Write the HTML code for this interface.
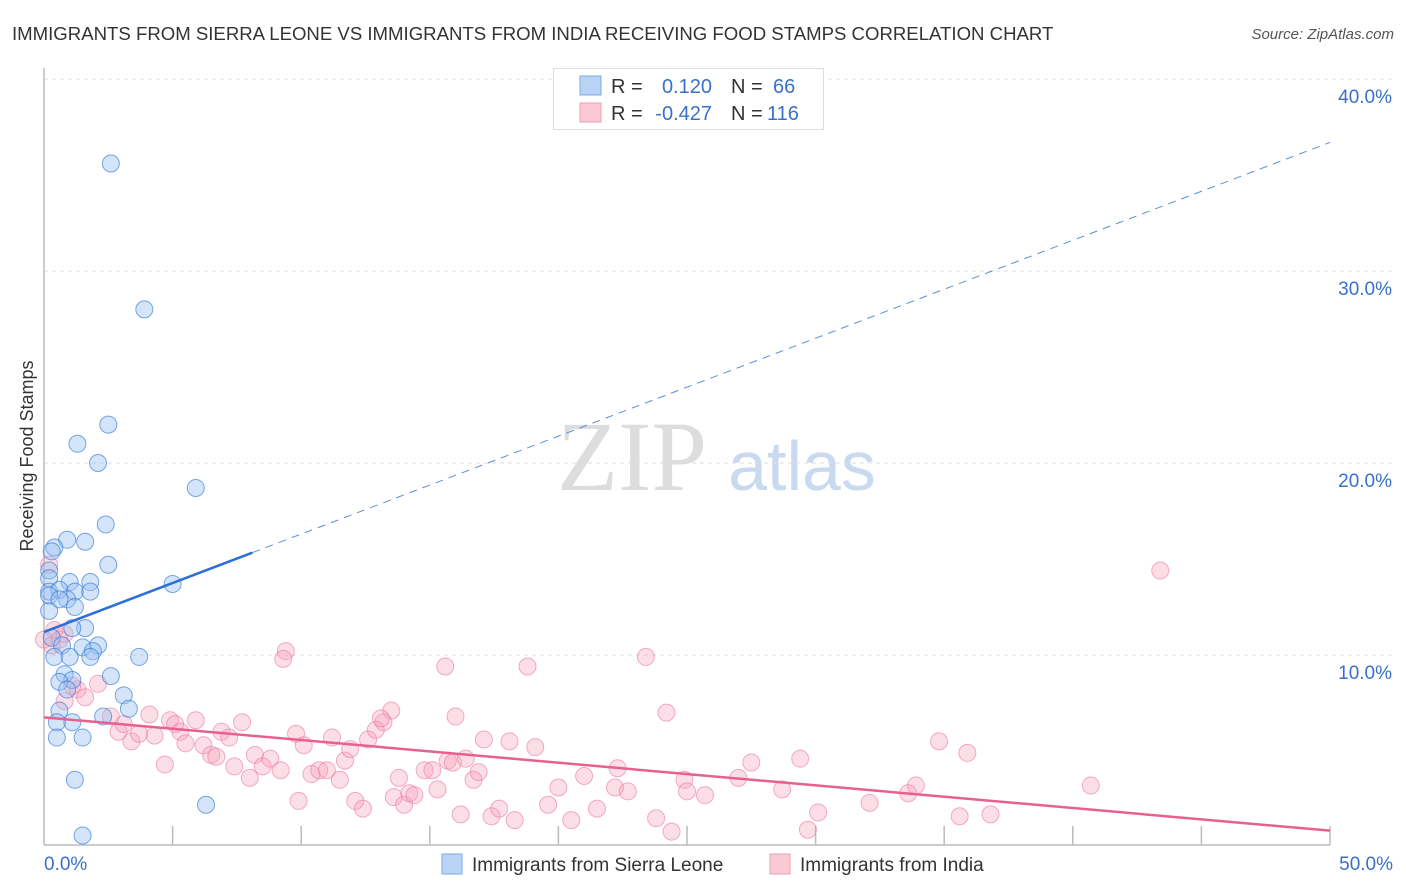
<!DOCTYPE html>
<html><head><meta charset="utf-8"><style>
body{margin:0;background:#fff;font-family:"Liberation Sans",sans-serif;}
svg{display:block}
</style></head><body>
<svg id="chart" width="1406" height="892">
<text x="12" y="40" font-size="18.6" fill="#333">IMMIGRANTS FROM SIERRA LEONE VS IMMIGRANTS FROM INDIA RECEIVING FOOD STAMPS CORRELATION CHART</text>
<text x="1394" y="39" font-size="15" fill="#555" font-style="italic" text-anchor="end">Source: ZipAtlas.com</text>
<text x="33" y="456" font-size="18" fill="#333" text-anchor="middle" transform="rotate(-90 33 456)">Receiving Food Stamps</text>
<g><text x="632" y="490" font-size="100" fill="#ddd" font-family="Liberation Serif,serif" text-anchor="middle">ZIP</text><text x="802" y="490" font-size="70" fill="#c9daf0" text-anchor="middle">atlas</text></g>
<g id="grid"></g><g id="axes"></g><g id="pts"></g><g id="lines"></g>
<g>
<rect x="553.5" y="68.5" width="270" height="61" fill="#fff" stroke="#ddd"/>
<rect x="580" y="76" width="21" height="19" fill="#b8d4f5" stroke="#7aaae8"/>
<rect x="580" y="103" width="21" height="19" fill="#fbc8d6" stroke="#f0a0b8"/>
<g font-size="20" fill="#333"><text x="611" y="93">R =</text><text x="611" y="120">R =</text><text x="731" y="93">N =</text><text x="731" y="120">N =</text></g>
<g font-size="20" fill="#3a70c8"><text x="712" y="93" text-anchor="end">0.120</text><text x="712" y="120" text-anchor="end">-0.427</text><text x="773" y="93">66</text><text x="767" y="120">116</text></g>
</g>
<g>
<rect x="442" y="854" width="20" height="20" fill="#b8d4f5" stroke="#7aaae8"/>
<text x="472" y="871" font-size="19" fill="#333">Immigrants from Sierra Leone</text>
<rect x="770" y="854" width="20" height="20" fill="#fbc8d6" stroke="#f0a0b8"/>
<text x="800" y="871" font-size="19" fill="#333">Immigrants from India</text>
</g>
</svg>
<script>
const yTicks=[10,20,30,40];
const xTickLabels=["0.0%","50.0%"];
const blueX=[2.6,3.9,2.5,1.3,2.1,5.9,2.4,1.6,0.9,0.4,0.3,2.5,0.2,0.2,1.0,1.8,5.0,0.2,0.6,1.2,1.8,0.9,1.2,0.2,1.6,1.1,0.3,0.7,2.1,1.5,1.9,0.4,1.0,3.7,1.8,0.8,2.6,1.1,0.6,0.9,3.1,3.3,0.6,2.3,1.1,0.5,0.5,1.5,1.2,6.3,1.5,0.2,0.6];
const blueY=[35.6,28.0,22.0,21.0,20.0,18.7,16.8,15.9,16.0,15.6,15.4,14.7,14.4,14.0,13.8,13.8,13.7,13.3,13.4,13.3,13.3,12.9,12.5,12.3,11.4,11.4,10.9,10.5,10.5,10.4,10.2,9.9,9.9,9.9,9.9,9.0,8.9,8.7,8.6,8.2,7.9,7.2,7.1,6.8,6.5,6.5,5.7,5.7,3.5,2.2,0.6,13.1,12.9];
const pinkX=[43.4,9.4,9.3,15.6,18.8,23.4,24.2,13.5,13.2,16.0,0.2,0.4,0.6,0.8,1.3,1.6,2.1,2.6,2.9,3.1,4.1,3.4,3.7,4.3,4.7,4.9,5.1,5.3,5.5,5.9,6.2,6.5,6.7,6.9,7.2,7.4,7.7,8.0,8.2,8.5,8.8,9.2,9.8,10.1,9.9,10.4,10.7,11.0,11.2,11.5,11.7,11.9,12.1,12.4,12.6,12.9,13.1,13.8,13.6,14.0,14.2,14.4,14.8,15.1,15.3,15.7,15.9,16.2,16.4,16.7,16.9,17.1,17.4,17.7,18.1,18.3,19.1,19.6,20.0,20.5,21.0,21.5,22.2,22.3,22.7,23.8,24.4,24.9,25.0,25.7,27.0,27.5,28.7,29.4,29.7,30.1,32.1,33.6,33.9,34.8,35.6,35.9,36.8,40.7,0.0,0.8,1.1,0.3];
const pinkY=[14.4,10.2,9.8,9.4,9.4,9.9,7.0,7.1,6.5,6.8,14.7,11.3,10.8,11.1,8.2,7.8,8.5,6.8,6.0,6.4,6.9,5.5,5.9,5.8,4.3,6.6,6.4,6.0,5.4,6.6,5.3,4.8,4.7,6.0,5.7,4.2,6.5,3.6,4.8,4.2,4.6,4.0,5.9,5.3,2.4,3.8,4.0,4.0,5.7,3.5,4.5,5.1,2.4,2.0,5.6,6.1,6.7,3.6,2.6,2.2,2.8,2.7,4.0,4.0,3.0,4.5,4.4,1.7,4.6,3.5,3.9,5.6,1.6,2.0,5.5,1.4,5.2,2.2,3.1,1.4,3.7,2.0,3.1,4.1,2.9,1.5,0.8,3.5,2.9,2.7,3.6,4.4,3.0,4.6,0.9,1.8,2.3,2.8,3.2,5.5,1.6,4.9,1.7,3.2,10.8,7.6,8.4,10.5];
const X0=44,X1=1330,Y0=847,PY=19.2;
const sx=v=>X0+(X1-X0)*v/50, sy=v=>Y0-v*PY;
const NS="http://www.w3.org/2000/svg";
function mk(tag,attrs,parent){const e=document.createElementNS(NS,tag);for(const k in attrs)e.setAttribute(k,attrs[k]);document.getElementById(parent).appendChild(e);return e;}
yTicks.forEach(t=>{
 const l=mk('line',{x1:44,x2:1393,y1:sy(t),y2:sy(t),stroke:'#ddd','stroke-dasharray':'4,4'},'grid');
 
 
 const tx=mk('text',{x:1392,y:sy(t)+24,'font-size':19,fill:'#3a70c8','text-anchor':'end'},'grid');
 tx.textContent=t.toFixed(1)+'%';
 
 
});
const ax=mk('line',{x1:44,x2:44,y1:68,y2:845,stroke:'#bbb','stroke-width':1.5},'axes');


const bx=mk('line',{x1:44,x2:1330,y1:845,y2:845,stroke:'#bbb','stroke-width':1.5},'axes');


for(let i=1;i<=10;i++){const t=mk('line',{x1:sx(i*5),x2:sx(i*5),y1:826,y2:845,stroke:'#bbb','stroke-width':1.5},'axes');
 
 }
const xl0=mk('text',{x:44,y:870,'font-size':19,fill:'#3a70c8'},'axes');xl0.textContent=xTickLabels[0];


const xl1=mk('text',{x:1393,y:870,'font-size':19,fill:'#3a70c8','text-anchor':'end'},'axes');xl1.textContent=xTickLabels[1];


pinkX.forEach((v,i)=>{const c=mk('circle',{cx:sx(v),cy:sy(pinkY[i]),r:8.5,fill:'rgba(247,160,187,0.35)',stroke:'rgba(236,120,160,0.6)'},'pts');
 
 });
blueX.forEach((v,i)=>{const c=mk('circle',{cx:sx(v),cy:sy(blueY[i]),r:8.5,fill:'rgba(150,190,240,0.4)',stroke:'rgba(50,120,220,0.65)'},'pts');
 
 });
const [ba,bb]=[11.2,0.51];
const l1=mk('line',{x1:sx(0),y1:sy(ba),x2:sx(8.1),y2:sy(ba+bb*8.1),stroke:'#2c6fd8','stroke-width':2.5},'lines');


const l2=mk('line',{x1:sx(8.1),y1:sy(ba+bb*8.1),x2:sx(50),y2:sy(ba+bb*50),stroke:'#5b8fd8','stroke-width':1,'stroke-dasharray':'8,6'},'lines');


const [pa,pb]=[6.75,-0.118];
const l3=mk('line',{x1:sx(0),y1:sy(pa),x2:sx(50),y2:sy(pa+pb*50),stroke:'#e8608e','stroke-width':2.5},'lines');


</script>
</body></html>
